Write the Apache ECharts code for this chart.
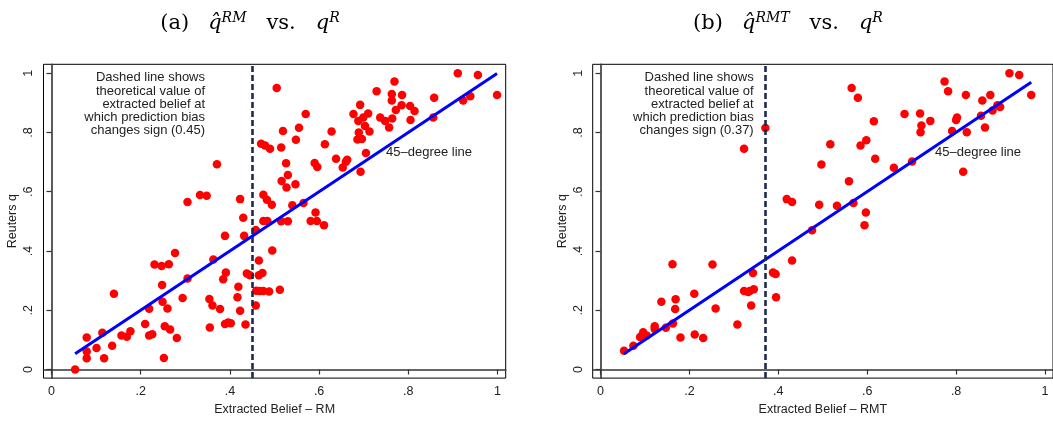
<!DOCTYPE html>
<html>
<head>
<meta charset="utf-8">
<script src="https://cdn.jsdelivr.net/npm/echarts@6/dist/echarts.min.js"></script>
<style>
html,body{margin:0;padding:0;background:#fff;}
#chart{width:1053px;height:421px;}
</style>
</head>
<body>
<div id="chart"></div>
<script>
// ---- data ----
const xRM = [0.305,0.333,0.348,0.371,0.423,0.430,0.389,0.432,0.458,
  0.505,0.470,0.479,0.490,0.515,0.519,0.526,0.530,0.516,0.527,0.547,0.548,0.555,0.570,
  0.475,0.483,0.494,0.540,0.565,0.592,0.581,0.595,0.611,0.475,0.484,0.515,0.530,
  0.590,0.596,0.613,0.628,0.638,0.653,0.663,0.660,0.693,0.705,0.677,0.692,
  0.688,0.699,0.710,0.689,0.686,0.696,0.703,0.713,0.729,0.769,0.763,0.763,0.786,
  0.785,0.772,0.804,0.814,0.737,0.748,0.757,0.764,0.805,0.858,0.856,0.911,0.956,0.923,0.939,0.999,
  0.053,0.079,0.079,0.079,0.101,0.114,0.118,0.136,0.140,0.157,0.169,0.177,0.210,0.219,0.219,0.226,
  0.231,0.247,0.263,0.248,0.249,0.260,0.254,0.266,0.252,0.281,0.277,0.294,0.305,0.354,0.361,0.355,
  0.378,0.363,0.385,0.391,0.389,0.396,0.402,0.419,0.417,0.423,0.435,0.438,0.445,
  0.495,0.465,0.465,0.473,0.459,0.467,0.475,0.488,0.512,0.458];
const yRM = [0.565,0.589,0.586,0.693,0.575,0.512,0.451,0.451,0.471,
  0.950,0.762,0.756,0.745,0.749,0.805,0.696,0.656,0.636,0.614,0.625,0.775,0.816,0.862,
  0.590,0.573,0.556,0.554,0.562,0.530,0.501,0.501,0.487,0.501,0.501,0.500,0.500,
  0.697,0.683,0.760,0.803,0.711,0.682,0.708,0.701,0.667,0.731,0.862,0.893,
  0.839,0.850,0.864,0.800,0.776,0.778,0.822,0.803,0.939,0.972,0.930,0.908,0.926,
  0.892,0.876,0.889,0.872,0.850,0.839,0.817,0.847,0.842,0.917,0.850,1.000,0.994,0.908,0.922,0.926,
  0.000,0.108,0.061,0.038,0.073,0.124,0.038,0.080,0.256,0.115,0.111,0.129,0.154,0.205,0.115,0.119,
  0.354,0.349,0.355,0.285,0.229,0.206,0.146,0.135,0.039,0.106,0.393,0.241,0.307,0.238,0.216,0.142,
  0.204,0.371,0.305,0.327,0.154,0.159,0.156,0.279,0.244,0.198,0.152,0.324,0.318,
  0.402,0.368,0.318,0.326,0.266,0.265,0.265,0.263,0.269,0.216];

const xRMT = [0.371,0.323,0.419,0.431,0.476,0.492,0.497,0.517,0.532,0.559,0.565,0.579,0.569,0.597,0.594,
  0.585,0.598,0.615,0.618,0.660,0.684,0.701,0.719,0.722,0.720,0.742,0.774,0.782,0.791,0.800,0.802,
  0.822,0.816,0.824,0.859,0.877,0.856,0.865,0.882,0.893,0.899,0.920,0.942,0.969,
  0.053,0.074,0.089,0.096,0.098,0.104,0.122,0.122,0.137,0.147,0.162,0.163,0.169,0.168,0.180,
  0.211,0.212,0.231,0.252,0.259,0.308,0.323,0.332,0.336,0.345,0.343,0.339,0.388,0.394,0.395,0.431];
const yRMT = [0.815,0.745,0.575,0.565,0.470,0.556,0.692,0.760,0.553,0.635,0.950,0.917,0.562,0.530,0.487,
  0.756,0.774,0.838,0.711,0.681,0.862,0.702,0.864,0.823,0.801,0.839,0.972,0.939,0.805,0.842,0.850,
  0.926,0.667,0.801,0.908,0.926,0.856,0.817,0.874,0.892,0.886,1.000,0.994,0.926,
  0.063,0.080,0.110,0.126,0.113,0.115,0.146,0.137,0.229,0.141,0.355,0.155,0.237,0.204,0.108,
  0.256,0.118,0.106,0.354,0.206,0.152,0.265,0.262,0.265,0.271,0.326,0.216,0.327,0.322,0.244,0.368];

const tickValues = [0, 0.2, 0.4, 0.6, 0.8, 1];
const tickLabels = ['0', '.2', '.4', '.6', '.8', '1'];
const cutoffRM = 0.45;
const cutoffRMT = 0.37;
const yName = 'Reuters q';
const xNameRM = 'Extracted Belief \u2013 RM';
const xNameRMT = 'Extracted Belief \u2013 RMT';
const noteRM = 'Dashed line shows\ntheoretical value of\nextracted belief at\nwhich prediction bias\nchanges sign (0.45)';
const noteRMT = 'Dashed line shows\ntheoretical value of\nextracted belief at\nwhich prediction bias\nchanges sign (0.37)';
const lineLabel = '45\u2013degree line';

// ---- build ----
const zip = (a, b) => a.map((v, i) => [v, b[i]]);
const diag = (xs) => { const lo = Math.min(...xs), hi = Math.max(...xs); return [[lo, lo], [hi, hi]]; };
const fmt = (v) => { const i = tickValues.findIndex(t => Math.abs(t - v) < 1e-6); return i >= 0 ? tickLabels[i] : ''; };

const SANS = '"Liberation Sans", Arial, sans-serif';
const SERIF = '"DejaVu Serif", "Liberation Serif", serif';
const TXT = '#222';

function xAx(gi, min, max, name) {
  return {
    type: 'value', gridIndex: gi, min: min, max: max,
    name: name, nameLocation: 'middle', nameGap: 22,
    nameTextStyle: { fontFamily: SANS, fontSize: 12.5, color: TXT },
    axisLine: { show: true, lineStyle: { color: '#333', width: 1.6 } },
    axisTick: { show: true, length: 5, customValues: tickValues, lineStyle: { color: '#333', width: 1.2 } },
    axisLabel: { customValues: tickValues, formatter: fmt, margin: 7, fontFamily: SANS, fontSize: 12.5, color: TXT },
    splitLine: { show: false }
  };
}
function yAx(gi, min, max) {
  return {
    type: 'value', gridIndex: gi, min: min, max: max,
    name: yName, nameLocation: 'middle', nameGap: 24, nameRotate: 90,
    nameTextStyle: { fontFamily: SANS, fontSize: 12.5, color: TXT },
    axisLine: { show: true, lineStyle: { color: '#333', width: 1.6 } },
    axisTick: { show: true, length: 5, customValues: tickValues, lineStyle: { color: '#333', width: 1.2 } },
    axisLabel: { customValues: tickValues, formatter: fmt, rotate: 90, margin: 8, fontFamily: SANS, fontSize: 12.5, color: TXT },
    splitLine: { show: false }
  };
}
function scatterS(gi, xs, ys, cut) {
  return {
    type: 'scatter', xAxisIndex: gi, yAxisIndex: gi, data: zip(xs, ys),
    symbolSize: 8.5, itemStyle: { color: '#ff0000', opacity: 1 }, clip: false, z: 3,
    markLine: {
      silent: true, symbol: 'none', label: { show: false },
      lineStyle: { color: '#1b2a4e', width: 2.6, type: [6, 3] },
      data: [{ xAxis: cut }]
    }
  };
}
function lineS(gi, xs) {
  return {
    type: 'line', xAxisIndex: gi, yAxisIndex: gi, data: diag(xs),
    symbol: 'none', lineStyle: { color: '#0000ff', width: 3 }, z: 4, silent: true
  };
}

const titleRich = {
  p: { fontFamily: SERIF, fontSize: 21, color: '#111', padding: [0, 19, 0, 0] },
  n: { fontFamily: SERIF, fontSize: 21, color: '#111', padding: [0, 20, 0, 0] },
  i: { fontFamily: SERIF, fontSize: 21, fontStyle: 'italic', color: '#111' },
  s: { fontFamily: SERIF, fontSize: 14, fontStyle: 'italic', color: '#111', verticalAlign: 'top', padding: [0, 0, 11, 0] },
  sg: { fontFamily: SERIF, fontSize: 14, fontStyle: 'italic', color: '#111', verticalAlign: 'top', padding: [0, 20, 11, 0] }
};

const option = {
  animation: false,
  backgroundColor: '#fff',
  grid: [
    { left: 43.5, right: 547.3, top: 64.3, bottom: 38.3, show: true, borderColor: '#000', borderWidth: 1, backgroundColor: 'transparent' },
    { left: 592.7, right: -1.2, top: 64.3, bottom: 38.3, show: true, borderColor: '#000', borderWidth: 1, backgroundColor: 'transparent' }
  ],
  xAxis: [ xAx(0, -0.0179, 1.0184, xNameRM), xAx(1, -0.0175, 1.018, xNameRMT) ],
  yAxis: [ yAx(0, -0.0289, 1.0299), yAx(1, -0.0289, 1.0299) ],
  series: [
    scatterS(0, xRM, yRM, cutoffRM), lineS(0, xRM),
    scatterS(1, xRMT, yRMT, cutoffRMT), lineS(1, xRMT)
  ],
  graphic: [
    { type: 'text', x: 250, y: 24, style: { text: '{p|(a)}{i|q\u0302}{sg|RM}{n|vs.}{i|q}{s|R}', rich: titleRich, align: 'center', verticalAlign: 'middle' } },
    { type: 'text', x: 788, y: 24, style: { text: '{p|(b)}{i|q\u0302}{sg|RMT}{n|vs.}{i|q}{s|R}', rich: titleRich, align: 'center', verticalAlign: 'middle' } },
    { type: 'text', x: 205, y: 71, style: { text: noteRM, align: 'right', verticalAlign: 'top', fontFamily: SANS, fontSize: 13, lineHeight: 13.3, fill: TXT } },
    { type: 'text', x: 753.7, y: 71, style: { text: noteRMT, align: 'right', verticalAlign: 'top', fontFamily: SANS, fontSize: 13, lineHeight: 13.3, fill: TXT } },
    { type: 'text', x: 386, y: 152.5, style: { text: lineLabel, align: 'left', verticalAlign: 'middle', fontFamily: SANS, fontSize: 13, fill: TXT } },
    { type: 'text', x: 935, y: 152.5, style: { text: lineLabel, align: 'left', verticalAlign: 'middle', fontFamily: SANS, fontSize: 13, fill: TXT } }
  ]
};

const chart = echarts.init(document.getElementById('chart'), null, { renderer: 'canvas' });
chart.setOption(option);
</script>
</body>
</html>
